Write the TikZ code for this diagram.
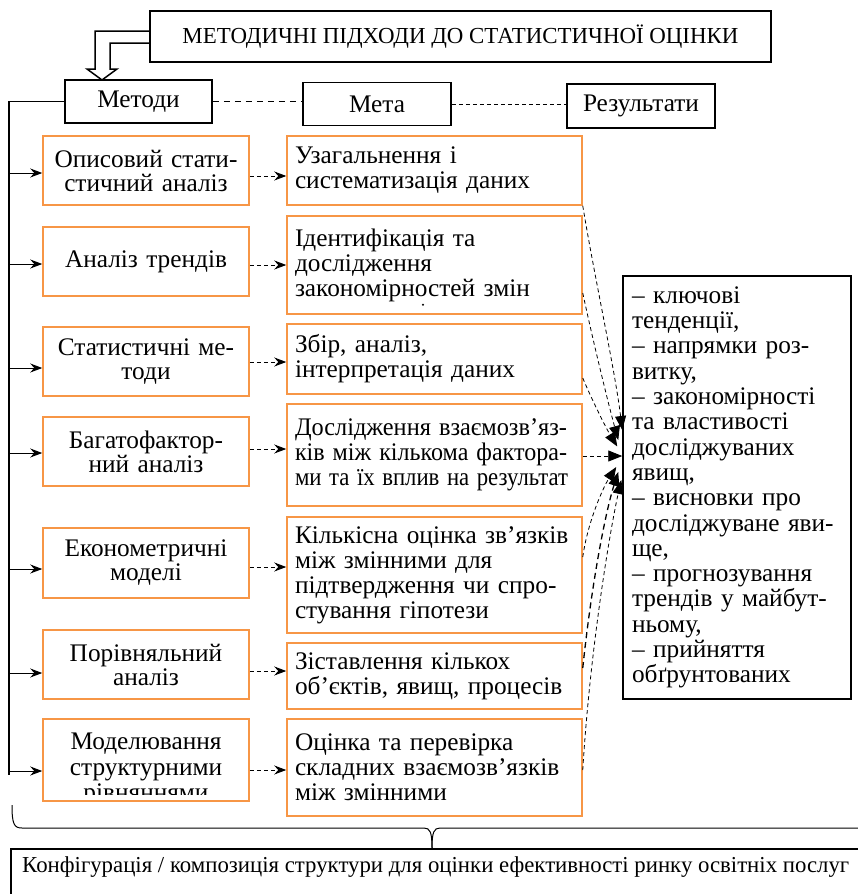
\documentclass[tikz,border=0pt]{standalone}
\usepackage{fontspec}
\usepackage{graphicx}
\setmainfont{Liberation Serif}
\usetikzlibrary{arrows.meta,calc}
\definecolor{boxorange}{RGB}{247,150,70}
\newcommand\fitline[2]{\resizebox{#1}{\height}{#2}}
\begin{document}
\begin{tikzpicture}[x=1pt,y=1pt,
  every node/.style={inner sep=0pt},
  blackbox/.style={draw=black, line width=1.5pt, fill=white, font=\fontsize{25.3}{25.3}\selectfont},
  methbox/.style={draw=boxorange, line width=1.5pt, minimum width=206, text width=200, align=center, font=\fontsize{25.3}{24}\selectfont},
  goalbox/.style={draw=boxorange, line width=1.5pt, minimum width=295, text width=279, align=left, font=\fontsize{25.3}{25}\selectfont},
  busarrow/.style={line width=1pt, -{Stealth[length=12pt,width=9pt,inset=4pt]}},
  dasharrow/.style={line width=0.9pt, dash pattern=on 4pt off 3pt, -{Stealth[length=12pt,width=9pt,inset=4pt]}},
  resarrow/.style={line width=0.8pt, dash pattern=on 4pt off 3pt, -{Triangle[length=14pt,width=11pt]}},
  resarrowb/.style={line width=1.3pt, dash pattern=on 6pt off 4pt, -{Triangle[length=14pt,width=11pt]}},
]
\useasboundingbox (0,0) rectangle (857,-894);

% top row
\node[blackbox, minimum width=621, minimum height=51, font=\fontsize{22.9}{24}\selectfont] (title) at (460.5,-36.5) {МЕТОДИЧНІ ПІДХОДИ ДО СТАТИСТИЧНОЇ ОЦІНКИ};
\node[blackbox, minimum width=147, minimum height=43] (metody) at (138.5,-101.5) {Методи};
\node[blackbox, minimum width=148, minimum height=43] (meta) at (377,-104) {Мета};
\node[blackbox, minimum width=148, minimum height=44] (rez) at (641,-106) {Результати};

% hollow double arrow
\draw[line width=1.5pt, line join=miter]
  ($(title.west)+(0,5.5)$) -- (95,-31) -- (95,-69) -- (87,-69) -- (102,-80)
  -- (117,-69) -- (110,-69) -- (110,-43) -- ($(title.west)+(0,-6.5)$);

\draw[line width=1.2pt, dash pattern=on 6pt off 5pt] (metody.east) -- (meta.west |- metody.east);
\draw[line width=0.9pt, dash pattern=on 4pt off 3pt] (meta.east) -- (rez.west |- meta.east);

% method boxes
\node[methbox, minimum height=69] (m1) at (146,-170.5) {Описовий стати-\\стичний аналіз};
\node[methbox, minimum height=69] (m2) at (146,-261.5) {Аналіз трендів};
\node[methbox, minimum height=69] (m3) at (146,-361.5) {Статистичні ме-\\тоди};
\node[methbox, minimum height=69] (m4) at (146,-451.5) {Багатофактор-\\ний аналіз};
\node[methbox, minimum height=70] (m5) at (146,-563) {Економетричні\\моделі};
\node[methbox, minimum height=69] (m6) at (146,-664.5) {Порівняльний\\аналіз};
\node[methbox, minimum height=82] (m7) at (146,-760) {};
\begin{scope}
  \clip ($(m7.south west)+(0,7)$) rectangle (m7.north east);
  \node[text width=200, align=center, font=\fontsize{25.3}{25.5}\selectfont, anchor=north] (m7t) at (146,-733) {Моделювання\\структурними\\рівняннями};
\end{scope}

% goal boxes
\node[goalbox, minimum height=69] (g1) at (434.5,-170.5) {Узагальнення і\\систематизація даних};
\node[goalbox, minimum height=98] (g2) at (434.5,-265) {Ідентифікація та\\дослідження\\закономірностей змін};
\fill ($(g2.south)+(-11.5,10)$) circle (1.1pt);
\node[goalbox, minimum height=70] (g3) at (434.5,-359) {Збір, аналіз,\\інтерпретація даних};
\node[goalbox, minimum height=102] (g4) at (434.5,-455) {\fitline{272pt}{Дослідження взаємозв’яз-}\\\fitline{272pt}{ків між кількома фактора-}\\\fitline{273pt}{ми та їх вплив на результат}};
\node[goalbox, minimum height=116] (g5) at (434.5,-575) {Кількісна оцінка зв’язків\\між змінними для\\підтвердження чи спро-\\стування гіпотези};
\node[goalbox, minimum height=66] (g6) at (434.5,-676) {Зіставлення кількох\\об’єктів, явищ, процесів};
\node[goalbox, minimum height=97] (g7) at (434.5,-767.5) {Оцінка та перевірка\\складних взаємозв’язків\\між змінними};

% results box
\node[blackbox, minimum width=228, minimum height=423, text width=210, align=left, font=\fontsize{25.3}{25.3}\selectfont] (res) at (737,-487.5)
 {– ключові\\тенденції,\\– напрямки роз-\\витку,\\– закономірності\\та властивості\\досліджуваних\\явищ,\\– висновки про\\досліджуване яви-\\ще,\\– прогнозування\\трендів у майбут-\\ньому,\\– прийняття\\обґрунтованих};

% bus
\draw[line width=1.2pt] (metody.west) -- (9,-101.5) coordinate (btop) -- (9,-775) coordinate (bbot);
\foreach \i/\y in {1/173,2/264,3/368,4/453,5/569,6/673,7/771}{
  \coordinate (b\i) at (9,-\y);
  \draw[busarrow] (b\i) -- (b\i -| m\i.west);
}
% method -> goal
\foreach \i/\y in {1/176,2/265,3/362,4/449,5/567,6/671,7/770}{
  \coordinate (d\i) at (0,-\y);
  \draw[dasharrow] (m\i.east |- d\i) -- (g\i.west |- d\i);
}

% goal -> results
\draw[resarrow] (g1.south east) .. controls (595,-280) and (615,-370) .. ($(res.west)+(0,57.5)$);
\draw[resarrow] (g2.east |- 0,-293) .. controls (595,-350) and (610,-410) .. ($(res.west)+(-4,47.5)$);
\draw[resarrow] (g3.east |- 0,-378) .. controls (592,-400) and (606,-428) .. ($(res.west)+(-5,41)$);
\draw[resarrow] (g4.east |- 0,-456) -- (res.west |- 0,-456);
\draw[resarrow] (g5.east |- 0,-557) .. controls (588,-520) and (604,-486) .. ($(res.west)+(-6,20.5)$);
\draw[resarrowb] (g6.east |- 0,-668) .. controls (592,-580) and (606,-510) .. ($(res.west)+(-4,15.5)$);
\draw[resarrow] (g7.east |- 0,-770) .. controls (590,-650) and (610,-530) .. ($(res.west)+(-1,7.5)$);

% bottom box and brace
\node[draw=black, line width=1.5pt, minimum width=880, minimum height=80, anchor=north west] (bottombox) at (10,-848) {};
\node[anchor=west, font=\fontsize{22.8}{24}\selectfont] (conf) at (22,-867) {Конфігурація / композиція структури для оцінки ефективності ринку освітніх послуг};
\coordinate (tip) at (bottombox.north -| 432,0);
\draw[line width=1pt] (12,-805) .. controls (12,-824) and (14,-828) .. (22,-828) -- (424,-828)
   .. controls (430,-828) and (432,-832) .. (tip);
\draw[line width=1pt] (tip) .. controls (432,-832) and (434,-828) .. (440,-828) -- (880,-828);
\end{tikzpicture}
\end{document}
